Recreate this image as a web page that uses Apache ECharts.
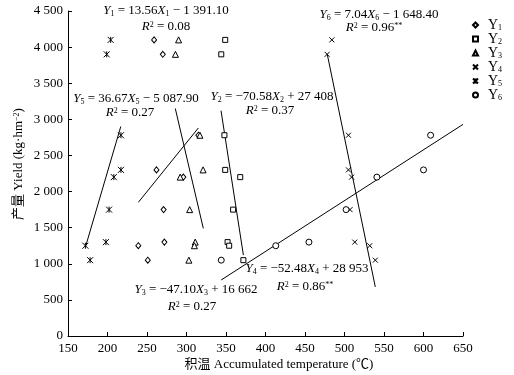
<!DOCTYPE html>
<html>
<head>
<meta charset="utf-8">
<script src="https://cdn.jsdelivr.net/npm/echarts@6/dist/echarts.min.js"></script>
<style>html,body{margin:0;padding:0;background:#fff;}#c{width:514px;height:375px;}</style>
</head>
<body>
<div id="c"></div>
<script>
// Yield levels shared by all series (kg·hm^-2)
const yields = [4100, 3900, 2780, 2300, 2200, 1750, 1300, 1250, 1050];
// Accumulated temperature per series (℃)
const x1 = [259, 270, 315, 262, 296, 271, 272, 239, 251];
const x2 = [349, 344, 348, 349, 368, 359, 352, 354, 372];
const x3 = [290, 286, 317, 321, 292, 304, 311, 310, 303];
const x4 = [484, 478, 505, 505, 509, 507, 513, 532, 539];
const x5 = [204, 199, 217, 217, 208, 202, 198, 172, 178];
const x6 = [null, null, 609, 600, 541, 502, 455, 413, 344];
// Regression line end points
const fit1 = [[239, 1850], [315, 2880]];
const fit2 = [[343.7, 3120], [372, 1120]];
const fit3 = [[285.8, 3150], [321.3, 1490]];
const fit4 = [[478.2, 3900], [539, 680]];
const fit5 = [[172.3, 1240], [216.8, 2900]];
const fit6 = [[343.8, 775], [650, 2930]];
const seriesNames = ['Y1', 'Y2', 'Y3', 'Y4', 'Y5', 'Y6'];
const xTicks = [150, 650, 50];
const yTicks = [0, 4500, 500];

const FONT = '"Liberation Serif","Noto Sans CJK SC",serif';
const pair = (xs) => xs.map((x, i) => x == null ? null : [x, yields[i]]).filter(p => p);
const xs = [x1, x2, x3, x4, x5, x6];
const fits = [fit1, fit2, fit3, fit4, fit5, fit6];
const symbols = [
  {symbol: 'diamond', size: [5, 6]},
  {symbol: 'rect', size: 5},
  {symbol: 'triangle', size: 6},
  {symbol: 'path://M0,0L10,10M10,0L0,10', size: 5},
  {symbol: 'path://M0,0L10,10M10,0L0,10M5,0L5,10', size: 6},
  {symbol: 'circle', size: 6}
];
const series = [];
seriesNames.forEach((n, k) => {
  series.push({
    name: n, type: 'scatter', data: pair(xs[k]),
    symbol: symbols[k].symbol, symbolSize: symbols[k].size,
    itemStyle: {color: '#fff', borderColor: '#000', borderWidth: 1, opacity: 1},
    z: 3
  });
});
fits.forEach((f) => {
  series.push({
    type: 'line', data: f, showSymbol: false, symbol: 'none', silent: true,
    lineStyle: {color: '#000', width: 1}, z: 2
  });
});

const thou = (v) => {
  const s = String(v);
  return s.length > 3 ? s.slice(0, s.length - 3) + ' ' + s.slice(-3) : s;
};
const rich = {
  i: {fontFamily: FONT, fontSize: 13, fontStyle: 'italic', fill: '#000', color: '#000'},
  s: {fontFamily: FONT, fontSize: 8, verticalAlign: 'bottom', fill: '#000', color: '#000', padding: [5, 0, 0, 0]},
  p: {fontFamily: FONT, fontSize: 8, verticalAlign: 'top', fill: '#000', color: '#000'}
};
const texts = [
  ['{i|Y}{s|1} = 13.56{i|X}{s|1} − 1 391.10', 166, 11],
  ['{i|R}{p|2} = 0.08', 166, 27],
  ['{i|Y}{s|5} = 36.67{i|X}{s|5} − 5 087.90', 136, 99],
  ['{i|R}{p|2} = 0.27', 130, 113],
  ['{i|Y}{s|2} = −70.58{i|X}{s|2} + 27 408', 272, 97],
  ['{i|R}{p|2} = 0.37', 270, 111],
  ['{i|Y}{s|6} = 7.04{i|X}{s|6} − 1 648.40', 379, 15],
  ['{i|R}{p|2} = 0.96{p|**}', 374, 28],
  ['{i|Y}{s|3} = −47.10{i|X}{s|3} + 16 662', 196, 290],
  ['{i|R}{p|2} = 0.27', 192, 307],
  ['{i|Y}{s|4} = −52.48{i|X}{s|4} + 28 953', 307, 269],
  ['{i|R}{p|2} = 0.86{p|**}', 305, 287]
];
const graphics = texts.map(t => ({
  type: 'text', x: t[1], y: t[2], z: 10,
  style: {text: t[0], rich: rich, fontFamily: FONT, fontSize: 13, fill: '#000',
          textAlign: 'center', textVerticalAlign: 'middle'}
}));
graphics.push({
  type: 'text', x: 279, y: 365, z: 10,
  style: {text: '积温 Accumulated temperature (℃)', fontFamily: FONT, fontSize: 13, fill: '#000',
          textAlign: 'center', textVerticalAlign: 'middle'}
});
graphics.push({
  type: 'text', x: 19, y: 164, rotation: Math.PI / 2, z: 10,
  style: {text: '产量 Yield (kg·hm{p|−2})', rich: rich, fontFamily: FONT, fontSize: 13, fill: '#000',
          textAlign: 'center', textVerticalAlign: 'middle'}
});

const chart = echarts.init(document.getElementById('c'), null, {renderer: 'canvas'});
chart.setOption({
  animation: false,
  backgroundColor: '#fff',
  grid: {left: 68, right: 51, top: 11, bottom: 39, containLabel: false},
  xAxis: {
    type: 'value', min: xTicks[0], max: xTicks[1], interval: xTicks[2],
    axisLine: {show: true, lineStyle: {color: '#000', width: 1}},
    axisTick: {show: true, inside: true, length: 4, lineStyle: {color: '#000'}},
    axisLabel: {color: '#000', fontFamily: FONT, fontSize: 13, margin: 6},
    splitLine: {show: false}
  },
  yAxis: {
    type: 'value', min: yTicks[0], max: yTicks[1], interval: yTicks[2],
    axisLine: {show: true, lineStyle: {color: '#000', width: 1}},
    axisTick: {show: true, inside: true, length: 4, lineStyle: {color: '#000'}},
    axisLabel: {color: '#000', fontFamily: FONT, fontSize: 13, margin: 5, formatter: thou},
    splitLine: {show: false}
  },
  legend: {
    data: seriesNames, orient: 'vertical', left: 472, top: 18,
    itemWidth: 5, itemHeight: 5, itemGap: 0, padding: 0,
    formatter: (n) => '{y|Y}{b|' + n.slice(1) + '}',
    textStyle: {
      color: '#000', fontFamily: FONT, fontSize: 14,
      rich: {
        y: {fontFamily: FONT, fontSize: 14, color: '#000', padding: [0, 0, 0, 5]},
        b: {fontFamily: FONT, fontSize: 8, color: '#000', verticalAlign: 'bottom', padding: [5, 0, 0, 0]}
      }
    }
  },
  series: series,
  graphic: graphics
});
</script>
</body>
</html>
